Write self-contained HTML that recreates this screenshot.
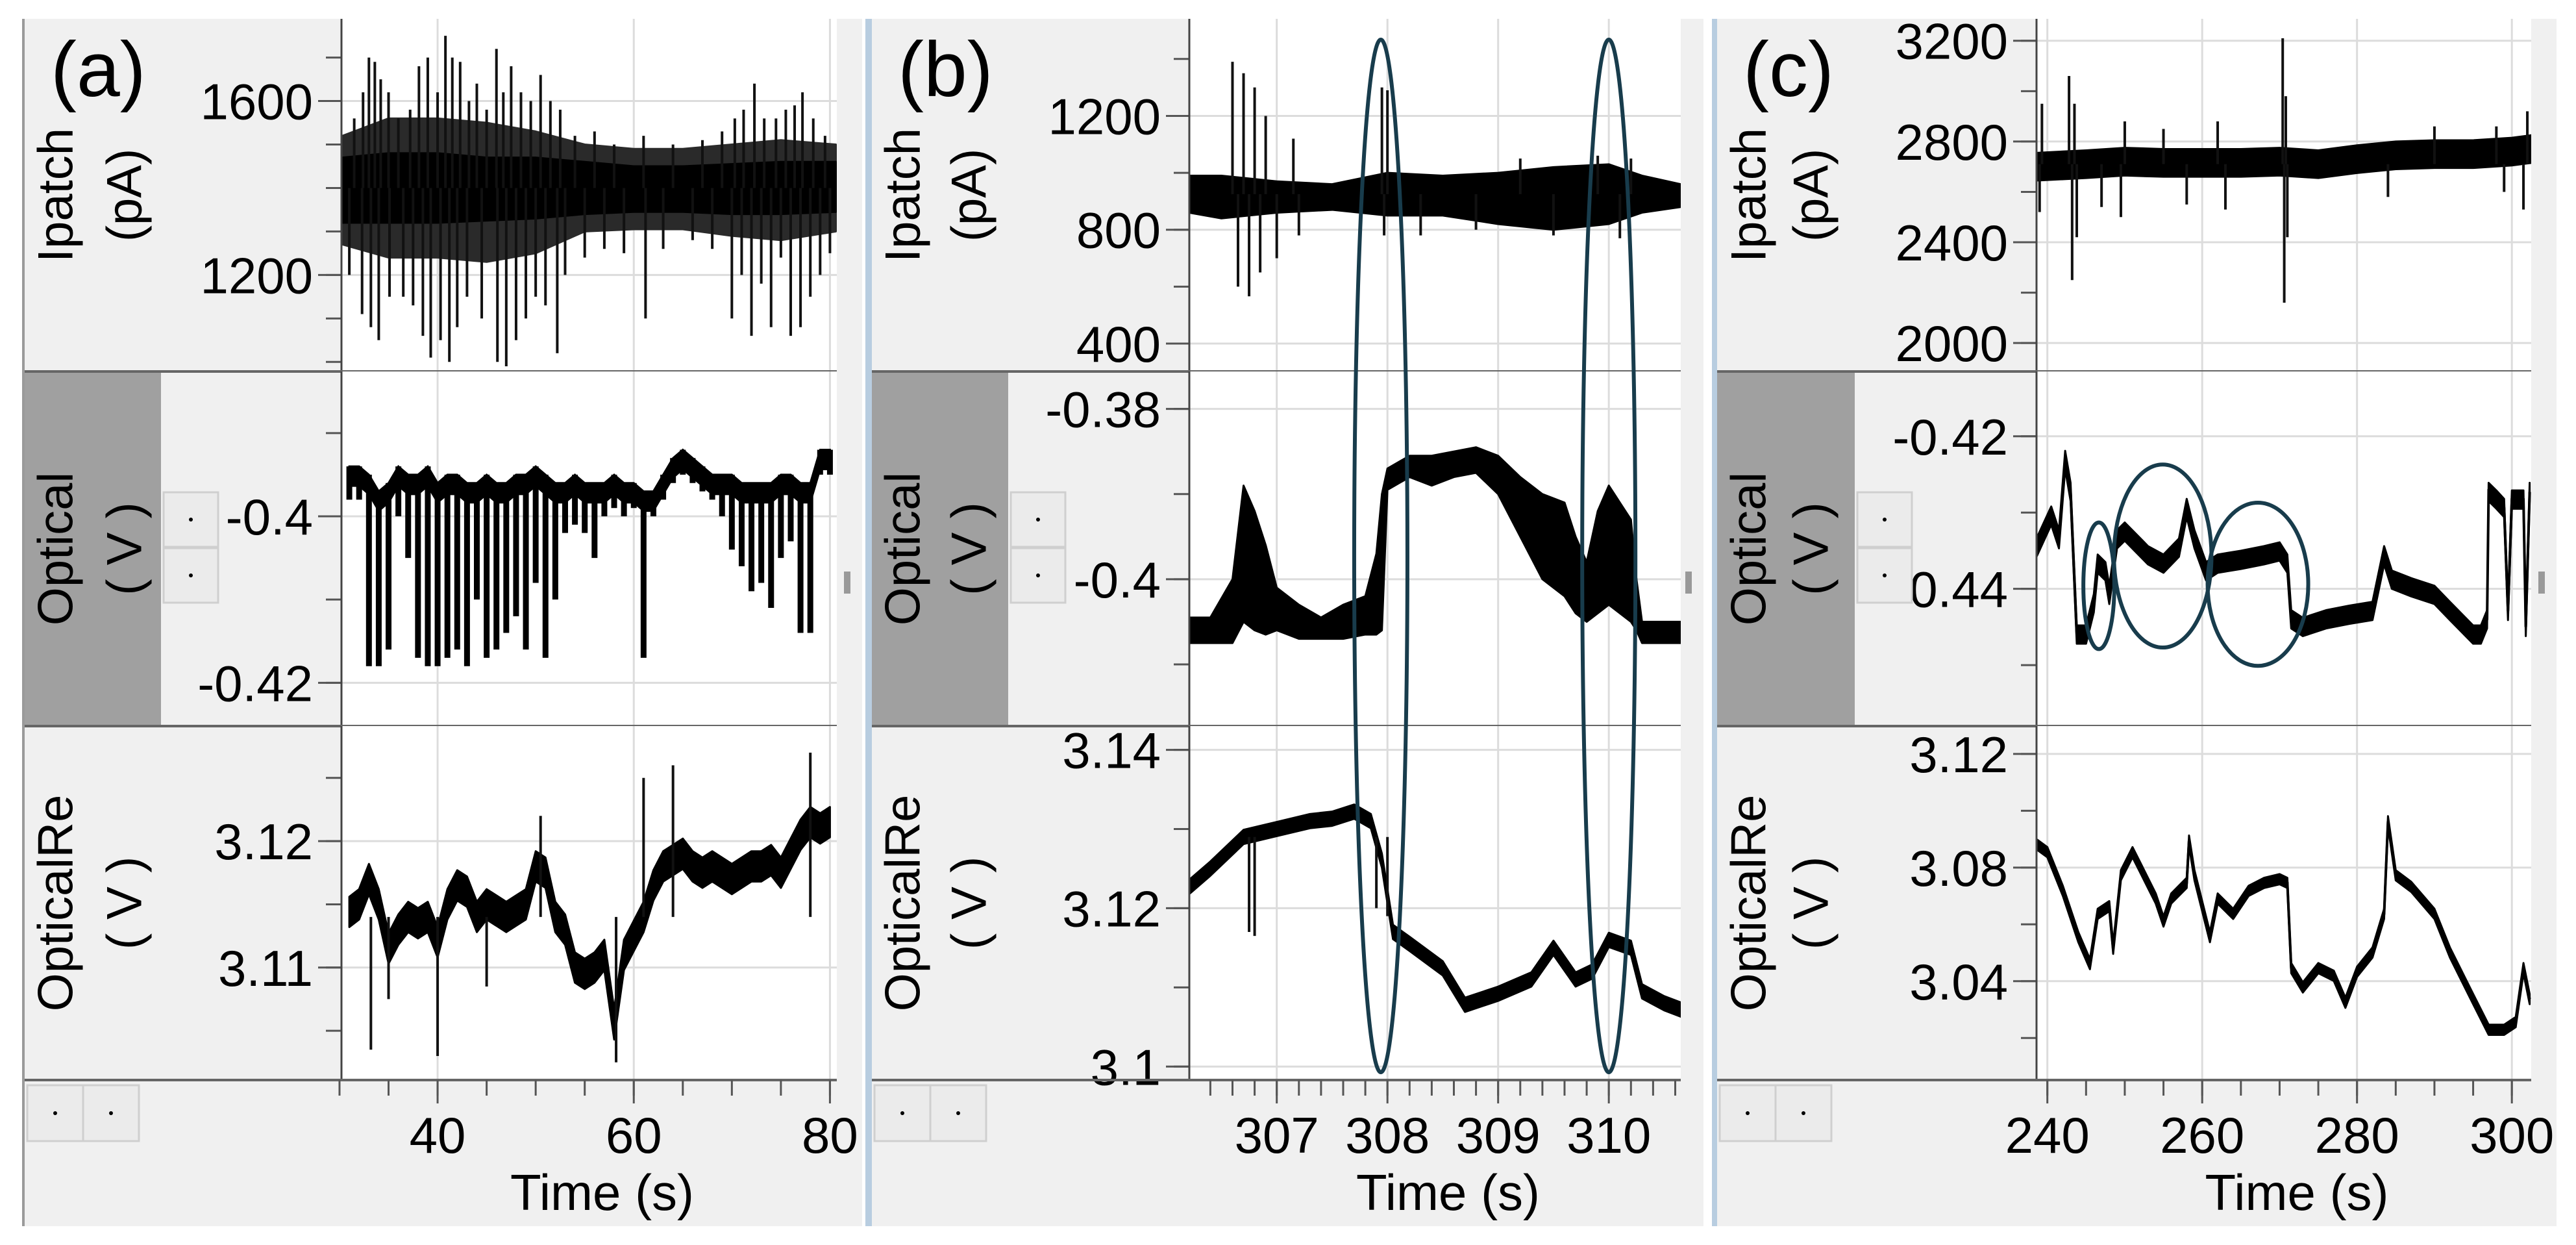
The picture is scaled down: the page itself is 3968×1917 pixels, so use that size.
<!DOCTYPE html>
<html><head><meta charset="utf-8"><style>
html,body{margin:0;padding:0;background:#fff;}
svg{display:block;}
text{font-family:"Liberation Sans",Arial,sans-serif;}
</style></head><body>
<svg id="fig" width="3968" height="1917" viewBox="0 0 3968 1917" xmlns="http://www.w3.org/2000/svg"></svg>
<script>
// ---------- Panel (a) data ----------
const aIpT = [30.3,35,40,45,50,55,60,65,70,75,80.6];
const aIpHi = [1470,1480,1480,1470,1470,1460,1450,1450,1455,1460,1460];
const aIpLo = [1320,1320,1320,1325,1330,1340,1345,1345,1340,1340,1345];
const aIpOutHi = [1520,1560,1560,1550,1530,1500,1490,1490,1500,1510,1500];
const aIpOutLo = [1270,1240,1240,1230,1250,1300,1305,1305,1290,1280,1300];
const aIpSpikeT = [31.5,32.4,33,33.6,34.2,35,36,37.2,38.1,39,40,40.8,41.5,42.3,43.2,44,45,46,46.7,47.5,48.5,49.5,50.5,51.5,52.5,54,56,58,61,64,67,69,70.3,71.2,72.3,73.3,74.5,75.5,76.4,77.2,78.3,79.5,
  31,32.3,33.2,34,35.1,36.5,37.5,38.5,39.3,40.3,41.2,42,43,44.5,46.1,47,48,49,50,51,52.2,53,55,57,59,61.2,63,66,68,70,71,72,73,74,75,76,77,78,79,80];
const aIpSpikeV = [1560,1620,1700,1690,1650,1620,1560,1580,1680,1700,1620,1750,1700,1690,1600,1640,1580,1720,1620,1680,1620,1600,1660,1600,1580,1520,1530,1500,1520,1500,1510,1530,1560,1580,1640,1560,1560,1580,1590,1620,1560,1520,
  1200,1110,1080,1050,1150,1150,1130,1060,1010,1050,1000,1080,1150,1100,1000,990,1050,1100,1150,1130,1020,1200,1240,1260,1250,1100,1260,1280,1260,1100,1200,1060,1180,1080,1240,1060,1080,1150,1200,1250];
const aOpT = [31,32,33,34,35,36,37,38,39,40,41,42,43,44,45,46,47,48,49,50,51,52,53,54,55,56,57,58,59,60,61,62,63,64,65,66,67,68,69,70,71,72,73,74,75,76,77,78,79,80];
const aOpHi = [-0.394,-0.394,-0.395,-0.397,-0.396,-0.394,-0.395,-0.395,-0.394,-0.396,-0.395,-0.395,-0.396,-0.396,-0.395,-0.396,-0.396,-0.395,-0.395,-0.394,-0.395,-0.396,-0.396,-0.395,-0.396,-0.396,-0.396,-0.395,-0.396,-0.396,-0.397,-0.397,-0.395,-0.393,-0.392,-0.393,-0.394,-0.395,-0.395,-0.395,-0.396,-0.396,-0.396,-0.396,-0.395,-0.395,-0.396,-0.396,-0.392,-0.392];
const aOpLo = [-0.398,-0.398,-0.418,-0.418,-0.416,-0.400,-0.405,-0.417,-0.418,-0.418,-0.417,-0.416,-0.418,-0.410,-0.417,-0.416,-0.414,-0.412,-0.416,-0.408,-0.417,-0.410,-0.402,-0.401,-0.402,-0.405,-0.400,-0.399,-0.400,-0.399,-0.417,-0.400,-0.398,-0.396,-0.395,-0.396,-0.397,-0.398,-0.400,-0.404,-0.406,-0.409,-0.408,-0.411,-0.405,-0.403,-0.414,-0.414,-0.395,-0.395];
const aReT = [31,32,33,34,35,36,37,38,39,40,41,42,43,44,45,46,47,48,49,50,51,52,53,54,55,56,57,58,59,60,61,62,63,64,65,66,67,68,69,70,71,72,73,74,75,76,77,78,79,80];
const aReMid = [3.1144,3.1150,3.1170,3.1150,3.1115,3.1130,3.1140,3.1135,3.1140,3.1120,3.1150,3.1165,3.1160,3.1140,3.1150,3.1145,3.1140,3.1145,3.1150,3.1180,3.1175,3.1140,3.1130,3.1100,3.1095,3.1100,3.1110,3.1055,3.1110,3.1125,3.1140,3.1165,3.1180,3.1185,3.1190,3.1180,3.1175,3.1180,3.1175,3.1170,3.1175,3.1180,3.1180,3.1185,3.1175,3.1190,3.1205,3.1215,3.1210,3.1215];
const aReAmp = 0.0012;
const aReSpikeT = [33.2,40,50.5,61,64,78,35,45,58.2];
const aReSpikeV = [3.1035,3.1030,3.1220,3.1250,3.1260,3.1270,3.1075,3.1085,3.1025];
// ---------- Panel (b) data ----------
const bIpT = [306.21,306.5,307,307.5,308,308.5,309,309.5,310,310.3,310.65];
const bIpHi = [990,990,970,960,1000,990,1000,1020,1030,990,960];
const bIpLo = [860,840,860,870,850,850,820,800,820,860,880];
const bIpSpikeT = [306.6,306.65,306.7,306.75,306.8,306.85,306.9,307,307.15,307.2,307.95,308,307.97,308.3,308.8,309.2,309.5,309.9,310.1,310.2];
const bIpSpikeV = [1390,600,1350,566,1300,650,1200,700,1120,780,1300,1290,780,780,800,1050,780,1060,770,1050];
const bOpT = [306.21,306.4,306.6,306.7,306.8,306.9,307.0,307.2,307.4,307.6,307.8,307.9,307.95,308.0,308.2,308.4,308.6,308.8,309.0,309.2,309.4,309.6,309.7,309.8,309.9,310.0,310.1,310.2,310.25,310.3,310.5,310.65];
const bOpHi = [-0.4045,-0.4045,-0.400,-0.389,-0.392,-0.396,-0.401,-0.403,-0.4045,-0.403,-0.402,-0.397,-0.390,-0.387,-0.3855,-0.3855,-0.385,-0.3845,-0.3855,-0.388,-0.390,-0.391,-0.395,-0.398,-0.392,-0.389,-0.391,-0.393,-0.400,-0.405,-0.405,-0.405];
const bOpLo = [-0.4075,-0.4075,-0.4075,-0.405,-0.406,-0.4065,-0.406,-0.407,-0.407,-0.407,-0.4065,-0.4065,-0.406,-0.3895,-0.388,-0.389,-0.388,-0.3875,-0.390,-0.395,-0.400,-0.402,-0.404,-0.405,-0.404,-0.403,-0.404,-0.405,-0.406,-0.4075,-0.4075,-0.4075];
const bReT = [306.21,306.4,306.7,307.0,307.3,307.5,307.7,307.85,307.95,308.05,308.2,308.5,308.7,309.0,309.3,309.5,309.7,309.85,310.0,310.2,310.3,310.5,310.65];
const bReMid = [3.1227,3.1250,3.1290,3.1300,3.1310,3.1313,3.1322,3.1310,3.1260,3.1170,3.1155,3.1124,3.1078,3.1092,3.1110,3.1150,3.1110,3.1120,3.1160,3.1150,3.1095,3.1080,3.1072];
const bReAmp = 0.0009;
const bReSpikeT = [306.75,306.8,307.9,308.0];
const bReSpikeV = [3.1170,3.1165,3.1200,3.1190];
// ---------- Panel (c) data ----------
const cIpT = [238.6,245,250,255,260,265,270,275,280,285,290,295,300,302.5];
const cIpMid = [2700,2710,2720,2715,2715,2715,2720,2710,2730,2745,2750,2750,2760,2770];
const cIpAmp = 55;
const cIpSpikeT = [239,239.3,242.8,243.2,243.5,243.8,247,249.5,250,255,258,262,263,270.4,270.6,270.8,271,284,290,298,299,301.5,302];
const cIpSpikeV = [2520,2950,3060,2250,2950,2420,2540,2500,2880,2850,2550,2880,2530,3210,2160,2980,2420,2580,2860,2860,2600,2530,2920];
const cOpT = [238.6,240.5,241.5,242.3,243,243.8,245,246,246.5,247.5,248,249,250,253,255,257,258,259,260.5,262,265,268,270,271,271.5,273,276,279,282,283.5,284.5,287,290,292,295,296,296.8,297,298,299,299.5,300,301.5,301.8,302.3];
const cOpMid = [-0.4346,-0.4304,-0.4335,-0.4231,-0.4273,-0.4460,-0.4460,-0.4419,-0.4367,-0.4377,-0.4408,-0.4335,-0.4325,-0.4356,-0.4367,-0.4346,-0.4294,-0.4335,-0.4377,-0.4367,-0.4362,-0.4356,-0.4351,-0.4367,-0.4440,-0.4450,-0.4440,-0.4434,-0.4429,-0.4356,-0.4388,-0.4398,-0.4408,-0.4429,-0.4460,-0.4460,-0.4440,-0.4273,-0.4283,-0.4294,-0.4429,-0.4283,-0.4283,-0.4450,-0.4273];
const cOpAmp = 0.0012;
const cReT = [238.6,240,242,244,245.5,246.5,248,248.5,249.5,251,252,254,255,256,258,258.3,259,261,262,264,266,268,270,271,271.5,273,275,277,278.5,280,282,283.5,284,285,287,290,292,295,297,299,300.5,301.5,302.3];
const cReMid = [3.0882,3.0854,3.0718,3.0555,3.0460,3.0637,3.0664,3.0514,3.0773,3.0854,3.0800,3.0691,3.0610,3.0691,3.0746,3.0895,3.0773,3.0555,3.0691,3.0637,3.0718,3.0746,3.0759,3.0746,3.0446,3.0378,3.0446,3.0419,3.0324,3.0433,3.0501,3.0637,3.0963,3.0773,3.0732,3.0637,3.0501,3.0337,3.0229,3.0229,3.0256,3.0446,3.0337];
const cReAmp = 0.0018;
// ---------- axis tick data ----------
const aXTicksMajor = [40,60,80];
const bXTicksMajor = [307,308,309,310];
const cXTicksMajor = [240,260,280,300];
const aIpTickLabels = ["1200","1600"]; const aIpTickVals=[1200,1600];
const aOpTickLabels = ["-0.4","-0.42"]; const aOpTickVals=[-0.40,-0.42];
const aReTickLabels = ["3.11","3.12"]; const aReTickVals=[3.11,3.12];
const bIpTickLabels = ["400","800","1200"]; const bIpTickVals=[400,800,1200];
const bOpTickLabels = ["-0.38","-0.4"]; const bOpTickVals=[-0.38,-0.40];
const bReTickLabels = ["3.1","3.12","3.14"]; const bReTickVals=[3.10,3.12,3.14];
const cIpTickLabels = ["2000","2400","2800","3200"]; const cIpTickVals=[2000,2400,2800,3200];
const cOpTickLabels = ["-0.42","0.44"]; const cOpTickVals=[-0.42,-0.44];
const cReTickLabels = ["3.04","3.08","3.12"]; const cReTickVals=[3.04,3.08,3.12];
// annotation ellipses (data units: time, value in Optical row)
const bEllipseT = [307.94,310.0];
const cEllipseT = [246.65,254.9,267.2];
const cEllipseV = [-0.4396,-0.4357,-0.4394];
const cEllipseRT = [2.0,6.3,6.5];
const cEllipseRV = [0.0083,0.012,0.0107];

const NS="http://www.w3.org/2000/svg";
const svg=document.getElementById('fig');
function mk(tag,attrs,parent){const e=document.createElementNS(NS,tag);for(const k in attrs)e.setAttribute(k,attrs[k]);(parent||svg).appendChild(e);return e;}
const ROWS=[[29,572],[572,1118],[1118,1663]];
const BOTTOM=1888;

function panel(p){
  const g=mk('g',{});
  
  
  const bg=mk('rect',{x:p.left,y:ROWS[0][0],width:p.right-p.left,height:BOTTOM-ROWS[0][0],fill:'#f0f0f0'},g);
  
  
  const lb=mk('rect',{x:p.left-p.borderW,y:ROWS[0][0],width:p.borderW,height:BOTTOM-ROWS[0][0],fill:p.borderColor},g);
  
  
  const ob=mk('rect',{x:p.left,y:ROWS[1][0],width:p.optBoxW,height:ROWS[1][1]-ROWS[1][0],fill:'#a0a0a0'},g);
  
  
  const xs=t=>p.x0+(t-p.xd[0])/(p.xd[1]-p.xd[0])*(p.x1-p.x0);
  p.rows.forEach((r,i)=>{
    const [yt,yb]=ROWS[i];
    const ys=v=>yt+(r.d[1]-v)/(r.d[1]-r.d[0])*(yb-yt);
    const pr=mk('rect',{x:p.x0,y:yt,width:p.x1-p.x0,height:yb-yt,fill:'#fff'},g);
    
    
    const cid='clip-'+p.id+i;
    const cp=mk('clipPath',{id:cid},g);
    mk('rect',{x:p.x0,y:yt,width:p.x1-p.x0,height:yb-yt},cp);
    p.xMajor.forEach(t=>{
      const gl=mk('line',{x1:xs(t),x2:xs(t),y1:yt,y2:yb,stroke:'#dcdcdc','stroke-width':3},g);
      
      
    });
    r.tv.forEach((v,k)=>{
      const gl=mk('line',{x1:p.x0,x2:p.x1,y1:ys(v),y2:ys(v),stroke:'#dcdcdc','stroke-width':3},g);
      
      
      const tk=mk('line',{x1:p.x0-36,x2:p.x0,y1:ys(v),y2:ys(v),stroke:'#555','stroke-width':3},g);
      
      
      const tl=mk('text',{x:p.x0-44,y:ys(v)+28,'text-anchor':'end','font-size':78,fill:'#000'},g);
      tl.textContent=r.tl[k];
      
      
    });
    for(let v=r.minor[0];v<=r.minor[1]+1e-9;v+=r.minor[2]){
      const yy=ys(v); if(yy<yt+2||yy>yb-2)continue;
      const tk=mk('line',{x1:p.x0-24,x2:p.x0,y1:yy,y2:yy,stroke:'#555','stroke-width':3},g);
      
      
    }
    const tg=mk('g',{'clip-path':'url(#'+cid+')'},g);
    
    
    r.series.forEach(s=>{
      if(s.bars){
        // baseline band along upper edge, with dips drawn as thin vertical strokes
        const th=s.bars;
        const pts=s.t.map((t,k)=>xs(t)+','+ys(s.hi[k])).concat(s.t.map((t,k)=>xs(t)+','+(ys(s.hi[k])+th)).reverse());
        const pg=mk('polygon',{points:pts.join(' '),fill:'#000',stroke:'#000','stroke-width':3},tg);
        
        
        s.t.forEach((t,k)=>{
          const ln=mk('line',{x1:xs(t),x2:xs(t),y1:ys(s.hi[k]),y2:ys(s.lo[k]),stroke:'#000','stroke-width':9},tg);
          
          
        });
        return;
      }
      let hi=s.hi,lo=s.lo;
      if(s.mid){hi=s.mid.map(v=>v+s.amp);lo=s.mid.map(v=>v-s.amp);}
      const pts=s.t.map((t,k)=>xs(t)+','+ys(hi[k])).concat(s.t.map((t,k)=>xs(t)+','+ys(lo[k])).reverse());
      const pg=mk('polygon',{points:pts.join(' '),fill:s.fill||'#000',stroke:s.fill||'#000','stroke-width':3,'stroke-linejoin':'round'},tg);
      
      
      if(s.mid){
        const pl=mk('polyline',{points:s.t.map((t,k)=>xs(t)+','+ys(s.mid[k])).join(' '),fill:'none',stroke:'#000','stroke-width':4},tg);
        
        
      }
    });
    if(r.spT){
      r.spT.forEach((t,k)=>{
        const sl=mk('line',{x1:xs(t),x2:xs(t),y1:ys(r.spBase),y2:ys(r.spV[k]),stroke:'#111','stroke-width':4},tg);
        
        
      });
    }
    const ax=mk('line',{x1:p.x0,x2:p.x0,y1:yt,y2:yb,stroke:'#444','stroke-width':3},g);
    
    
    const sp=mk('line',{x1:p.left,x2:p.x1,y1:yb,y2:yb,stroke:'#666','stroke-width':4},g);
    
    
    const cy=(yt+yb)/2;
    const l1=mk('text',{x:p.left+p.lab1,y:cy,'text-anchor':'middle','font-size':76,fill:'#000',transform:'rotate(-90 '+(p.left+p.lab1)+' '+cy+')','dominant-baseline':'central'},g);
    l1.textContent=r.label;
    
    
    const l2=mk('text',{x:p.left+p.lab2,y:cy,'text-anchor':'middle','font-size':76,fill:'#000',transform:'rotate(-90 '+(p.left+p.lab2)+' '+cy+')','dominant-baseline':'central'},g);
    l2.textContent=r.unit;
    
    
    r.ys=ys;
  });
  const yA=ROWS[2][1];
  p.xMajor.forEach(t=>{
    const tk=mk('line',{x1:xs(t),x2:xs(t),y1:yA,y2:yA+36,stroke:'#555','stroke-width':3},g);
    
    
    const tl=mk('text',{x:xs(t),y:yA+112,'text-anchor':'middle','font-size':78,fill:'#000'},g);
    tl.textContent=String(t);
    
    
  });
  for(let t=p.xMinor[0];t<=p.xMinor[1]+1e-9;t+=p.xMinor[2]){
    const tk=mk('line',{x1:xs(t),x2:xs(t),y1:yA,y2:yA+24,stroke:'#555','stroke-width':3},g);
    
    
  }
  const xt=mk('text',{x:(p.x0+p.x1)/2+20,y:yA+200,'text-anchor':'middle','font-size':78,fill:'#000'},g);
  xt.textContent='Time (s)';
  
  
  const pl=mk('text',{x:p.left+40,y:148,'font-size':120,fill:'#000'},g);
  pl.textContent='('+p.id+')';
  
  
  const bx=p.left+p.optBoxW+4;
  [[ROWS[1][0]+186,'up'],[ROWS[1][0]+272,'down']].forEach(([yy,nm])=>{
    const b=mk('rect',{x:bx,y:yy,width:84,height:84,fill:'#ebebeb',stroke:'#cfcfcf','stroke-width':3},g);
    
    
    mk('circle',{cx:bx+42,cy:yy+42,r:3,fill:'#000'},g);
  });
  [[p.left+4,'left'],[p.left+90,'right']].forEach(([xx,nm])=>{
    const b=mk('rect',{x:xx,y:ROWS[2][1]+8,width:86,height:86,fill:'#ebebeb',stroke:'#cfcfcf','stroke-width':3},g);
    
    
    mk('circle',{cx:xx+43,cy:ROWS[2][1]+51,r:3,fill:'#000'},g);
  });
  const h=mk('rect',{x:p.right-28,y:880,width:10,height:34,fill:'#999'},g);
  
  
  return {xs,rows:p.rows};
}

const A=panel({id:'a',left:38,right:1328,borderW:4,borderColor:'#9a9a9a',optBoxW:210,x0:526,x1:1289,xd:[30.2,80.7],xMajor:aXTicksMajor,xMinor:[30,80,5],lab1:48,lab2:154,
 rows:[
  {name:'ipatch',label:'Ipatch',unit:'(pA)',d:[978,1789],tv:aIpTickVals,tl:aIpTickLabels,minor:[1000,1700,100],
   series:[{t:aIpT,hi:aIpOutHi,lo:aIpOutLo,fill:'#2a2a2a'},{t:aIpT,hi:aIpHi,lo:aIpLo}],spT:aIpSpikeT,spV:aIpSpikeV,spBase:1400},
  {name:'optical',label:'Optical',unit:'( V )',d:[-0.4252,-0.3826],tv:aOpTickVals,tl:aOpTickLabels,minor:[-0.42,-0.39,0.01],
   series:[{t:aOpT,hi:aOpHi,lo:aOpLo,bars:30}]},
  {name:'opticalre',label:'OpticalRe',unit:'( V )',d:[3.1011,3.1291],tv:aReTickVals,tl:aReTickLabels,minor:[3.105,3.125,0.005],
   series:[{t:aReT,mid:aReMid,amp:aReAmp}],spT:aReSpikeT,spV:aReSpikeV,spBase:3.114}
 ]});
const B=panel({id:'b',left:1343,right:2624,borderW:10,borderColor:'#b8cde0',optBoxW:210,x0:1832,x1:2589,xd:[306.21,310.65],xMajor:bXTicksMajor,xMinor:[306.4,310.6,0.2],lab1:48,lab2:150,
 rows:[
  {name:'ipatch',label:'Ipatch',unit:'(pA)',d:[302,1541],tv:bIpTickVals,tl:bIpTickLabels,minor:[400,1400,200],
   series:[{t:bIpT,hi:bIpHi,lo:bIpLo}],spT:bIpSpikeT,spV:bIpSpikeV,spBase:925},
  {name:'optical',label:'Optical',unit:'( V )',d:[-0.41725,-0.3756],tv:bOpTickVals,tl:bOpTickLabels,minor:[-0.41,-0.38,0.01],
   series:[{t:bOpT,hi:bOpHi,lo:bOpLo}]},
  {name:'opticalre',label:'OpticalRe',unit:'( V )',d:[3.0983,3.143],tv:bReTickVals,tl:bReTickLabels,minor:[3.10,3.14,0.01],
   series:[{t:bReT,mid:bReMid,amp:bReAmp}],spT:bReSpikeT,spV:bReSpikeV,spBase:3.129}
 ]});
const C=panel({id:'c',left:2645,right:3938,borderW:8,borderColor:'#b8cde0',optBoxW:212,x0:3137,x1:3899,xd:[238.6,302.5],xMajor:cXTicksMajor,xMinor:[240,300,5],lab1:49,lab2:145,
 rows:[
  {name:'ipatch',label:'Ipatch',unit:'(pA)',d:[1887,3287],tv:cIpTickVals,tl:cIpTickLabels,minor:[2000,3200,200],
   series:[{t:cIpT,mid:cIpMid,amp:cIpAmp}],spT:cIpSpikeT,spV:cIpSpikeV,spBase:2710},
  {name:'optical',label:'Optical',unit:'( V )',d:[-0.458,-0.4115],tv:cOpTickVals,tl:cOpTickLabels,minor:[-0.45,-0.42,0.01],
   series:[{t:cOpT,mid:cOpMid,amp:cOpAmp}]},
  {name:'opticalre',label:'OpticalRe',unit:'( V )',d:[3.0052,3.1298],tv:cReTickVals,tl:cReTickLabels,minor:[3.02,3.12,0.02],
   series:[{t:cReT,mid:cReMid,amp:cReAmp}]}
 ]});
bEllipseT.forEach(t=>{
  const e=mk('ellipse',{cx:B.xs(t),cy:856,rx:41,ry:795,fill:'none',stroke:'#183c4c','stroke-width':6});
  
  
});
const cys=C.rows[1].ys;
cEllipseT.forEach((t,k)=>{
  const cx=C.xs(t),cy=cys(cEllipseV[k]);
  const rx=C.xs(t+cEllipseRT[k])-cx, ry=cys(cEllipseV[k]-cEllipseRV[k])-cy;
  const e=mk('ellipse',{cx:cx,cy:cy,rx:rx,ry:ry,fill:'none',stroke:'#183c4c','stroke-width':6});
  
  
});
</script>
</body></html>
